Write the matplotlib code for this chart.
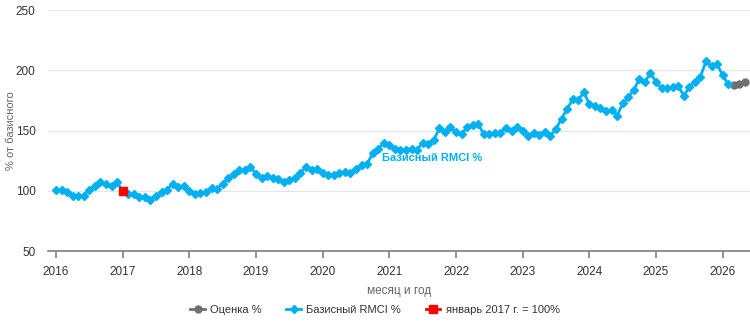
import matplotlib
matplotlib.use("Agg")
import matplotlib.pyplot as plt
import numpy as np

plt.rcParams['font.family'] = ['Liberation Sans', 'DejaVu Sans']

# базисный RMCI %, помесячно с января 2016 по февраль 2026
rmci_2016 = [100.3, 100.5, 98.6, 96, 96, 96, 101, 103.6, 107, 106, 104, 107]
rmci_2017 = [100, 97, 97, 95, 95, 92.5, 96, 98.6, 101, 105.5, 103, 104]
rmci_2018 = [100, 97, 98, 99, 102, 101.6, 106, 110.5, 114, 117, 117, 120]
rmci_2019 = [114, 110.5, 112, 110.5, 110, 107, 109, 110.5, 114.6, 120, 117, 118]
rmci_2020 = [114.6, 113, 112.7, 114.6, 116, 114.6, 118, 121, 122.4, 131, 134.5, 140]
rmci_2021 = [137.6, 135, 134, 134, 135, 134, 140, 138.7, 142, 152, 148.6, 152.8]
rmci_2022 = [148.6, 147, 152.8, 154.7, 155.5, 147, 147, 148.3, 148.3, 152.5, 149.7, 152.8]
rmci_2023 = [149.7, 145.6, 147.8, 146.4, 149, 145.6, 151.4, 160, 167.7, 176, 175, 181.8]
rmci_2024 = [172, 170, 168.5, 166.3, 167, 162.4, 172.6, 177.6, 183.7, 192.8, 190.6, 197.5]
rmci_2025 = [190.6, 185, 185, 186, 187, 179, 186, 190.6, 194.8, 207.5, 203.6, 205]
rmci_2026 = [196, 188.4]

# оценка на март-май 2026
estimate = [188.2, 189, 190.6]
estimate_start = 122  # индекс месяца (март 2026)

base_month = 12  # январь 2017
base_value = 100

year_ticks = list(range(2016, 2027))
y_ticks = [50, 100, 150, 200, 250]

rmci = (rmci_2016 + rmci_2017 + rmci_2018 + rmci_2019 + rmci_2020 + rmci_2021
        + rmci_2022 + rmci_2023 + rmci_2024 + rmci_2025 + rmci_2026)
months = 2016 + np.arange(len(rmci)) / 12
est_months = 2016 + (estimate_start + np.arange(len(estimate))) / 12

blue = '#00b0f0'
grey = '#707070'
red = '#ff0000'

fig = plt.figure(figsize=(7.5, 3.26), dpi=100)
ax = fig.add_axes([0.064, 0.23, 0.936, 0.739])

ax.plot(np.r_[months[-1], est_months], np.r_[rmci[-1], estimate],
        color=grey, lw=2, marker='o', ms=5, markevery=[1, 2, 3],
        label='Оценка %', zorder=3)
ax.plot(months, rmci, color=blue, lw=2, marker='D', ms=4,
        label='Базисный RMCI %', zorder=4)
ax.plot([2016 + base_month / 12], [base_value], color=red, lw=2, marker='s',
        ms=6, label='январь 2017 г. = 100%', zorder=5)

ax.text(2020.89, 127.4, 'Базисный RMCI %', color=blue, fontsize=8,
        fontweight='bold', va='center', ha='left')

ax.set_xlim(2015.88, 2026.41)
ax.set_ylim(50, 250)
ax.set_xticks(year_ticks)
ax.set_xticklabels([str(y) for y in year_ticks])
ax.set_yticks(y_ticks)

ax.grid(axis='y', color='#e6e6e6', lw=1)
ax.set_axisbelow(True)
for s in ['top', 'right', 'left']:
    ax.spines[s].set_visible(False)
ax.spines['bottom'].set_color('#7f7f7f')
ax.spines['bottom'].set_linewidth(1.2)
ax.tick_params(axis='x', length=5, width=1.2, color='#7f7f7f', pad=6,
               labelsize=8.5, labelcolor='#333333')
ax.tick_params(axis='y', length=0, pad=9, labelsize=8.5, labelcolor='#333333')

ax.set_xlabel('месяц и год', fontsize=8.5, color='#666666', labelpad=5)
ax.set_ylabel('% от базисного', fontsize=8, color='#666666')
ax.yaxis.set_label_coords(-0.046, 0.5)

h, l = ax.get_legend_handles_labels()
leg = fig.legend(h, l, loc='center', bbox_to_anchor=(0.5, 0.05), ncol=3,
                 frameon=False, fontsize=8, handlelength=1.3,
                 handletextpad=0.5, columnspacing=2.2)
for t in leg.get_texts():
    t.set_color('#333333')

fig.savefig('out.png', dpi=100)
